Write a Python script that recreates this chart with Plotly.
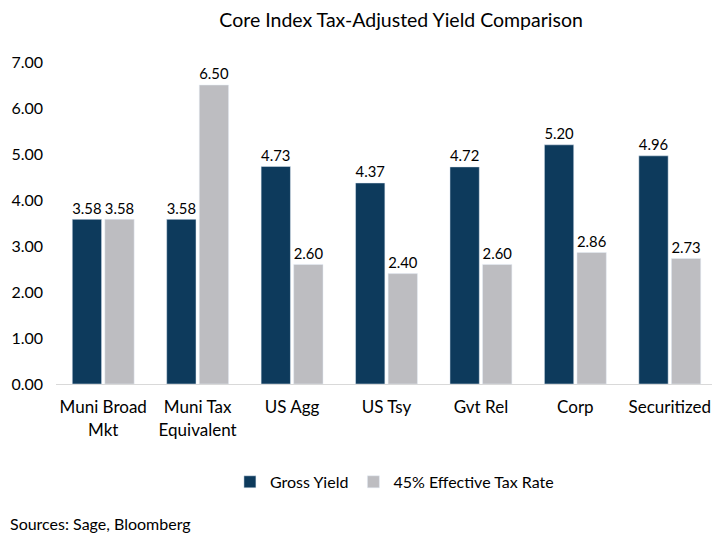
import plotly.graph_objects as go

categories = ["Muni Broad<br>Mkt", "Muni Tax<br>Equivalent", "US Agg", "US Tsy", "Gvt Rel", "Corp", "Securitized"]
gross_yield = [3.58, 3.58, 4.73, 4.37, 4.72, 5.20, 4.96]
tax_rate_45 = [3.58, 6.50, 2.60, 2.40, 2.60, 2.86, 2.73]

navy = "#0d3a5c"
gray = "#bdbdc1"
font = "Lato"

# the page body has an 8px margin, so everything below is shifted up/left by 8px

fig = go.Figure()
fig.add_trace(go.Bar(
    x=categories, y=gross_yield, name="Gross Yield",
    marker_color=navy, text=[f"{v:.2f}" for v in gross_yield],
    textposition="outside", cliponaxis=False,
    textfont=dict(size=16, color="black", family=font),
))
fig.add_trace(go.Bar(
    x=categories, y=tax_rate_45, name="45% Effective Tax Rate",
    marker_color=gray, text=[f"{v:.2f}" for v in tax_rate_45],
    textposition="outside", cliponaxis=False,
    textfont=dict(size=16, color="black", family=font),
))

fig.update_layout(
    width=720, height=540,
    paper_bgcolor="white", plot_bgcolor="white",
    font=dict(family=font, size=16, color="black"),
    title=dict(text="Core Index Tax-Adjusted Yield Comparison", x=0.546, xanchor="center",
               y=0.99, yanchor="top", font=dict(size=19.5)),
    margin=dict(l=48, r=11, t=54, b=164),
    barmode="group", bargap=0.31, bargroupgap=0.1,
    legend=dict(orientation="h", x=0.512, xanchor="center", y=-0.304, yanchor="middle",
                font=dict(size=16), traceorder="normal"),
    showlegend=True,
)
fig.update_yaxes(range=[0, 7], dtick=1, tickformat=".2f", showgrid=False,
                 zeroline=False, showline=False, ticks="", ticklabelstandoff=12,
                 automargin=False)
fig.update_xaxes(showline=True, linecolor="#d9d9d9", linewidth=1, ticks="",
                 tickfont=dict(size=17), ticklabelstandoff=8, automargin=False)

fig.add_annotation(text="Sources: Sage, Bloomberg", xref="paper", yref="paper",
                   x=-0.0726, y=-0.432, xanchor="left", yanchor="middle",
                   showarrow=False, font=dict(size=16))

fig.write_html("out.html")
